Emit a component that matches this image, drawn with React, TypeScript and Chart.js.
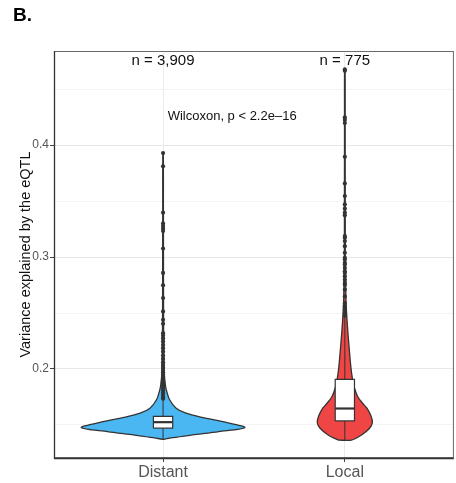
import React, { useEffect, useRef } from 'react';
import { Chart, registerables } from 'chart.js';

Chart.register(...registerables);

const FONT = '"Liberation Sans", Arial, Helvetica, sans-serif';

const categories = ['Distant', 'Local'];
const sampleSizes = ['n = 3,909', 'n = 775'];
const testLabel = 'Wilcoxon, p < 2.2e\u201316';
const panelLabel = 'B.';
const yTitle = 'Variance explained by the eQTL';
const yTickValues = [0.15, 0.2, 0.25, 0.3, 0.35, 0.4, 0.45];
const yMajorTicks = [0.2, 0.3, 0.4];

// violin density profiles (relative width, 1 = widest)
const distantViolinY = [0.1372, 0.1387, 0.1411, 0.1441, 0.1477, 0.1525, 0.1567, 0.1605, 0.165, 0.1725, 0.18, 0.1859, 0.2, 0.25, 0.3, 0.35, 0.393];
const distantViolinDensity = [0.01, 0.12, 0.36, 0.68, 1.0, 0.76, 0.48, 0.28, 0.16, 0.08, 0.045, 0.028, 0.012, 0.006, 0.005, 0.004, 0.003];
const localViolinY = [0.1365, 0.1408, 0.1468, 0.152, 0.158, 0.165, 0.1692, 0.1752, 0.1841, 0.1931, 0.2021, 0.217, 0.232, 0.2469, 0.2619, 0.3, 0.35, 0.4, 0.44, 0.4675];
const localViolinDensity = [0.08, 0.2, 0.3, 0.337, 0.32, 0.27, 0.22, 0.158, 0.113, 0.089, 0.073, 0.055, 0.038, 0.024, 0.014, 0.006, 0.005, 0.004, 0.004, 0.003];

// box stats: lower whisker, Q1, median, Q3, upper whisker
const distantBox = [0.1372, 0.1471, 0.1525, 0.1576, 0.173];
const localBox = [0.1365, 0.1536, 0.1647, 0.1907, 0.2464];

const distantOutliers = [0.3928, 0.381, 0.3396, 0.33, 0.3276, 0.3253, 0.3232, 0.3076, 0.2858, 0.2747, 0.2634, 0.2514, 0.2439, 0.2404, 0.232, 0.2296, 0.2272, 0.2245, 0.2215, 0.2186, 0.2155, 0.212, 0.209, 0.206, 0.2035, 0.201, 0.199, 0.197, 0.195, 0.193, 0.191, 0.189, 0.187, 0.185, 0.183, 0.181, 0.179, 0.177, 0.175, 0.1735];
const localOutliers = [0.4675, 0.4663, 0.4248, 0.4224, 0.4197, 0.3895, 0.3657, 0.3545, 0.347, 0.3432, 0.3396, 0.3372, 0.3187, 0.3172, 0.3142, 0.3097, 0.3038, 0.2993, 0.2978, 0.2948, 0.2933, 0.2903, 0.2873, 0.2858, 0.2828, 0.2798, 0.2769, 0.2753, 0.2709, 0.2648, 0.2589, 0.256, 0.253, 0.25, 0.2475];

const fillColors = ['#4AB6F2', '#F04545'];

const VIOLIN_HALF = 0.45;
const BOX_HALF = 0.053;
const OUTLINE = '#333333';

const isMajor = (v: number) => yMajorTicks.some((m) => Math.abs(m - v) < 1e-9);

function buildGroup(cx: number, ys: number[], dens: number[], box: number[], outliers: number[], color: string) {
  const left = ys.map((y, i) => ({ x: cx - dens[i] * VIOLIN_HALF, y }));
  const right = ys.map((y, i) => ({ x: cx + dens[i] * VIOLIN_HALF, y })).reverse();
  const violin = [...left, ...right, left[0]];
  const [lo, q1, med, q3, hi] = box;
  const rect = [
    { x: cx - BOX_HALF, y: q1 },
    { x: cx - BOX_HALF, y: q3 },
    { x: cx + BOX_HALF, y: q3 },
    { x: cx + BOX_HALF, y: q1 },
    { x: cx - BOX_HALF, y: q1 },
  ];
  const base = { pointRadius: 0, pointHoverRadius: 0, borderColor: OUTLINE };
  return [
    { ...base, type: 'line', data: violin, borderWidth: 1.3, backgroundColor: color, fill: 'shape', tension: 0.3, order: 5 },
    { ...base, type: 'line', data: [{ x: cx, y: lo }, { x: cx, y: q1 }], borderWidth: 1, fill: false, order: 4 },
    { ...base, type: 'line', data: [{ x: cx, y: q3 }, { x: cx, y: hi }], borderWidth: 1, fill: false, order: 4 },
    { ...base, type: 'line', data: rect, borderWidth: 1.2, backgroundColor: '#ffffff', fill: 'shape', tension: 0, order: 3 },
    { ...base, type: 'line', data: [{ x: cx - BOX_HALF, y: med }, { x: cx + BOX_HALF, y: med }], borderWidth: 2.2, fill: false, order: 2 },
    {
      type: 'line', data: outliers.map((y) => ({ x: cx, y })), showLine: false, pointRadius: 2.1, pointHoverRadius: 2.1,
      pointBackgroundColor: OUTLINE, pointBorderWidth: 0, borderColor: OUTLINE, order: 1,
    },
  ];
}

const annotationPlugin = {
  id: 'annotations',
  afterDatasetsDraw(chart: any) {
    const { ctx, chartArea: a } = chart;
    ctx.save();
    ctx.lineWidth = 1;
    ctx.strokeStyle = '#6a6a6a';
    ctx.strokeRect(a.left + 0.5, a.top + 0.5, a.right - a.left - 1, a.bottom - a.top - 1);
    ctx.strokeStyle = '#333333';
    ctx.lineWidth = 1.3;
    ctx.beginPath();
    ctx.moveTo(a.left + 0.5, a.top);
    ctx.lineTo(a.left + 0.5, a.bottom + 0.5);
    ctx.lineTo(a.right, a.bottom + 0.5);
    ctx.stroke();
    ctx.restore();
  },
  afterDraw(chart: any) {
    const { ctx } = chart;
    const xs = chart.scales.x;
    const ys = chart.scales.y;
    ctx.save();
    ctx.fillStyle = '#111111';
    ctx.textAlign = 'center';
    ctx.textBaseline = 'middle';
    ctx.font = `15px ${FONT}`;
    sampleSizes.forEach((s, i) => {
      ctx.fillText(s, xs.getPixelForValue(i + 1), ys.getPixelForValue(0.4753));
    });
    ctx.font = `13px ${FONT}`;
    ctx.fillText(testLabel, xs.getPixelForValue(1.38), ys.getPixelForValue(0.426));
    ctx.textAlign = 'left';
    ctx.textBaseline = 'alphabetic';
    ctx.font = `bold 19px ${FONT}`;
    ctx.fillStyle = '#000000';
    ctx.fillText(panelLabel, 13, 21);
    ctx.restore();
  },
};

export default function App() {
  const ref = useRef<HTMLCanvasElement | null>(null);
  useEffect(() => {
    if (!ref.current) return;
    Chart.defaults.font.family = FONT;
    const datasets = [
      ...buildGroup(1, distantViolinY, distantViolinDensity, distantBox, distantOutliers, fillColors[0]),
      ...buildGroup(2, localViolinY, localViolinDensity, localBox, localOutliers, fillColors[1]),
    ];
    const chart = new Chart(ref.current, {
      type: 'line',
      data: { datasets: datasets as any },
      options: {
        animation: false,
        responsive: false,
        devicePixelRatio: 1,
        layout: { padding: { top: 51, right: 1, left: 0, bottom: 0 } },
        plugins: { legend: { display: false }, tooltip: { enabled: false } },
        events: [],
        scales: {
          x: {
            type: 'linear',
            min: 0.4,
            max: 2.6,
            afterBuildTicks: (s: any) => { s.ticks = categories.map((_, i) => ({ value: i + 1 })); },
            afterFit: (s: any) => { s.height = 25; },
            ticks: {
              callback: (v: any) => categories[Math.round(Number(v)) - 1] ?? '',
              color: '#555555',
              font: { size: 16 },
              padding: 1,
              maxRotation: 0,
              autoSkip: false,
            },
            grid: { color: '#ebebeb', tickColor: '#444444', tickLength: 4, lineWidth: 1 },
            border: { display: false },
          },
          y: {
            type: 'linear',
            min: 0.1205,
            max: 0.484,
            afterBuildTicks: (s: any) => { s.ticks = yTickValues.map((v) => ({ value: v })); },
            afterFit: (s: any) => { s.width = 54; },
            ticks: {
              callback: (v: any) => (isMajor(Number(v)) ? Number(v).toFixed(1) : ''),
              color: '#555555',
              font: { size: 12 },
              padding: 1,
              autoSkip: false,
            },
            grid: {
              color: (c: any) => (c.tick && isMajor(c.tick.value) ? '#e8e8e8' : '#f3f3f3'),
              tickColor: (c: any) => (c.tick && isMajor(c.tick.value) ? '#444444' : 'rgba(0,0,0,0)'),
              tickLength: 4,
              lineWidth: 1,
            },
            border: { display: false },
            title: {
              display: true,
              text: yTitle,
              color: '#111111',
              font: { size: 14.5 },
              padding: { top: 17, bottom: 0 },
            },
          },
        },
      },
      plugins: [annotationPlugin],
    } as any);
    return () => chart.destroy();
  }, []);
  return (
    <div style={{ position: 'absolute', left: 0, top: 0, width: 456, height: 483, background: '#ffffff' }}>
      <canvas ref={ref} width={456} height={483} style={{ display: 'block' }} />
    </div>
  );
}
